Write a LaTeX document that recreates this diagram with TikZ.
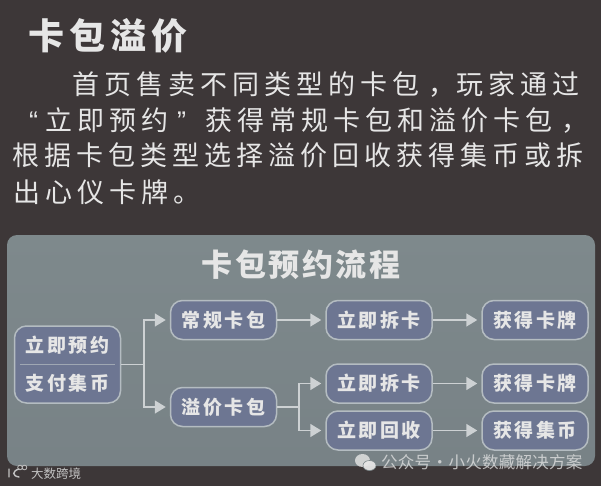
\documentclass[tikz,border=0pt]{standalone}
\usepackage{fontspec}
\usetikzlibrary{arrows.meta,calc}
\newfontfamily\cjk{Noto Sans CJK SC}
\newfontfamily\quotefont{Liberation Sans}
\newfontfamily\cjkh[LetterSpace=14]{Noto Sans CJK SC}
\newfontfamily\cjkb[LetterSpace=8]{Noto Sans CJK SC}
\newfontfamily\cjkbox[LetterSpace=14]{Noto Sans CJK SC}
\newfontfamily\cjkbody[LetterSpace=18.5]{Noto Sans CJK SC}
\newfontfamily\cjkwm[LetterSpace=1.5]{Noto Sans CJK SC}
\definecolor{bgdark}{HTML}{3D3738}
\definecolor{paneltop}{HTML}{7E898C}
\definecolor{panelbot}{HTML}{788286}
\definecolor{boxfill}{HTML}{6D7692}
\definecolor{boxline}{HTML}{B4BCC1}
\definecolor{wire}{HTML}{CDD1D3}
\definecolor{ink}{HTML}{E6E6E6}
\definecolor{wmgray}{HTML}{C2C2C2}
\tikzset{
  x=1pt,y=-1pt,
  flowbox/.style={draw=boxline,line width=1.5pt,fill=boxfill,rounded corners=12pt,minimum width=106pt,minimum height=39pt,inner sep=0pt,text=ink,font={\cjkbox\bfseries\fontsize{19}{19}\selectfont}},
  paylabel/.style={inner sep=0pt,text=ink,font={\cjkbox\bfseries\fontsize{19}{19}\selectfont}},
  wireline/.style={draw=wire,line width=1.6pt},
  arrowline/.style={wireline,-{Triangle[length=11pt,width=13pt,fill=wire]},shorten >=4pt},
  bodyline/.style={anchor=base west,inner sep=0pt,text=ink,font={\cjkbody\fontsize{27}{27}\selectfont}},
  quotemark/.style={anchor=base west,inner sep=0pt,text=ink,font={\quotefont\fontsize{27}{27}\selectfont}},
}
\begin{document}
\begin{tikzpicture}
\useasboundingbox (0,0) rectangle (601,486);
\fill[bgdark] (0,0) rectangle (601,486);
\node[anchor=west,inner sep=0pt,text=ink,font={\cjkh\bfseries\fontsize{36}{36}\selectfont\bfseries}] (head) at (28,36) {卡包溢价};
\node[bodyline] (l1a) at (72,95) {首页售卖不同类型的卡包};
\node[bodyline] (l1b) at (428,95) {，};
\node[bodyline] (l1c) at (456,95) {玩家通过};
\node[quotemark] (q1) at (29,131) {“};
\node[bodyline] (l2a) at (45,131) {立即预约};
\node[quotemark] (q2) at (177,131) {”};
\node[bodyline] (l2b) at (205,131) {获得常规卡包和溢价卡包};
\node[bodyline] (l2c) at (561,131) {，};
\node[bodyline] (l3) at (12,166) {根据卡包类型选择溢价回收获得集币或拆};
\node[bodyline] (l4) at (13,202) {出心仪卡牌。};
\path[top color=paneltop,bottom color=panelbot,rounded corners=10pt] (7,235) rectangle (595,466);
\node[inner sep=0pt,text=ink,font={\cjkb\bfseries\fontsize{31}{31}\selectfont}] (title) at (301,265) {卡包预约流程};
\node[flowbox,minimum height=77pt] (pay) at (67.5,364.5) {};
\node[paylabel] (pay1) at (67.5,345) {立即预约};
\node[paylabel] (pay2) at (67.5,383.5) {支付集币};
\draw[boxline!70!boxfill,line width=0.7pt] ($(pay.west)+(6,0)$) -- ($(pay.east)+(-6,0)$);
\node[flowbox] (a1) at (223.5,320) {常规卡包};
\node[flowbox] (a2) at (223.5,407) {溢价卡包};
\node[flowbox] (b1) at (379,320) {立即拆卡};
\node[flowbox] (b2) at (379,383.5) {立即拆卡};
\node[flowbox] (b3) at (379,430.5) {立即回收};
\node[flowbox] (c1) at (535,320) {获得卡牌};
\node[flowbox] (c2) at (535,383.5) {获得卡牌};
\node[flowbox] (c3) at (535,430.5) {获得集币};
\coordinate (j1) at (144,364.5);
\coordinate (j2) at (299,407);
\draw[wireline] (pay.east) -- (j1);
\draw[arrowline] (j1) |- (a1.west);
\draw[arrowline] (j1) |- (a2.west);
\draw[arrowline] (a1) -- (b1);
\draw[wireline] (a2.east) -- (j2);
\draw[arrowline] (j2) |- (b2.west);
\draw[arrowline] (j2) |- (b3.west);
\draw[arrowline] (b1) -- (c1);
\draw[arrowline] (b2) -- (c2);
\draw[arrowline] (b3) -- (c3);
% watermarks
\node[anchor=west,inner sep=0pt,text=wmgray,font={\cjk\fontsize{12.5}{12.5}\selectfont}] (wm1) at (31,474) {大数跨境};
\draw[wmgray,line width=1.4pt,line cap=round] (9,469) -- (9,477) (19,469) .. controls (12,471) and (12,476) .. (19,477);
\draw[wmgray,line width=0.8pt] (20,467.5) circle (2.3pt) (24.5,467.5) circle (2.3pt);
\node[anchor=west,inner sep=0pt,text=ink,opacity=0.75,font={\cjkwm\fontsize{16.5}{16.5}\selectfont}] (wm2) at (381,462.5) {公众号\hspace{0.5pt}·\hspace{0.5pt}小火数藏解决方案};
\fill[ink,opacity=0.8] (362.5,460.5) ellipse (7.5pt and 6.5pt);
\draw[paneltop,line width=0.6pt,fill=ink,fill opacity=0.95] (369.5,465.5) ellipse (6.5pt and 5pt);
\end{tikzpicture}
\end{document}
